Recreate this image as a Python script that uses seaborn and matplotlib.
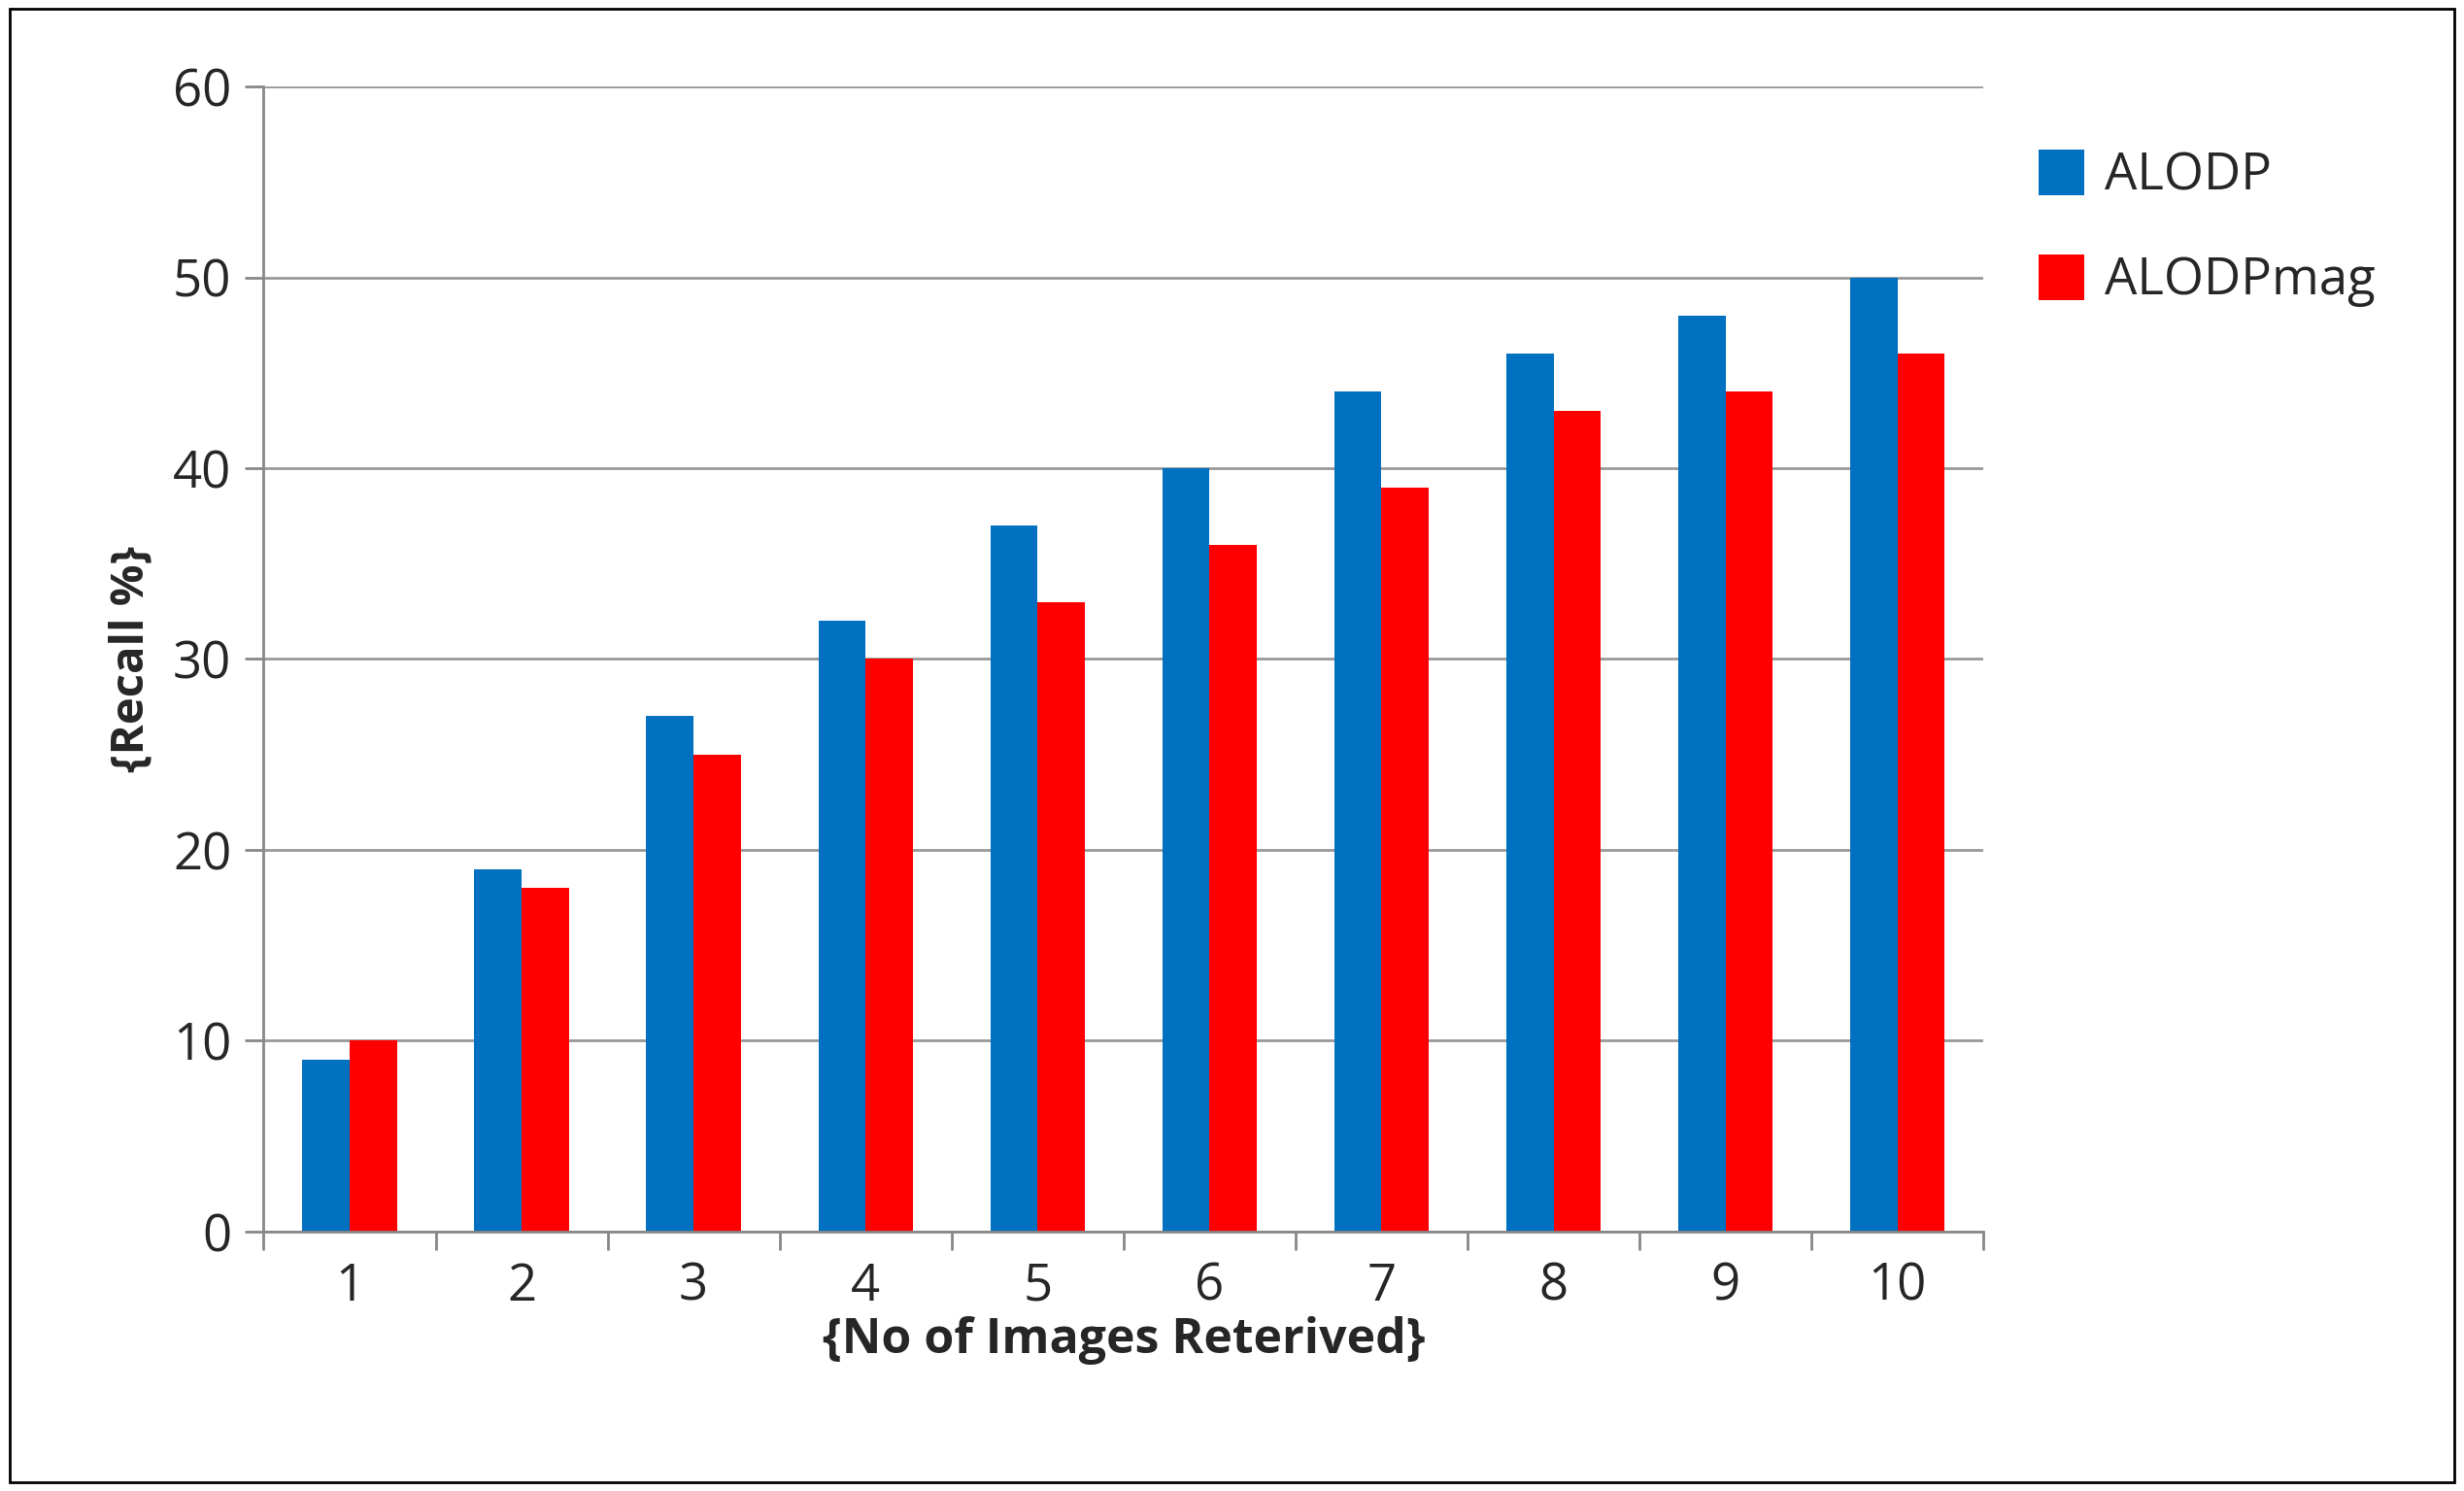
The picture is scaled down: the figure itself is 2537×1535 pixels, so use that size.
import numpy as np
import pandas as pd
import seaborn as sns
import matplotlib.pyplot as plt
from matplotlib.patches import Rectangle

categories = ['1', '2', '3', '4', '5', '6', '7', '8', '9', '10']
alodp = [9, 19, 27, 32, 37, 40, 44, 46, 48, 50]
alodp_mag = [10, 18, 25, 30, 33, 36, 39, 43, 44, 46]

df = pd.DataFrame({
    'N': categories * 2,
    'Recall': alodp + alodp_mag,
    'Method': ['ALODP'] * 10 + ['ALODPmag'] * 10,
})

sns.set_style('white', {'xtick.bottom': True, 'ytick.left': True})
plt.rcParams['font.family'] = ['Open Sans', 'DejaVu Sans']

fig = plt.figure(figsize=(25.37, 15.35), dpi=100)
ax = fig.add_axes([0.107, 0.174, 0.698, 0.768])

sns.barplot(data=df, x='N', y='Recall', hue='Method', order=categories,
            palette={'ALODP': '#0070C0', 'ALODPmag': '#FF0000'},
            width=0.55, saturation=1, linewidth=0, ax=ax, legend=True)

ax.set_ylim(0, 60)
ax.set_xlim(-0.5, 9.5)
ax.set_yticks(range(0, 61, 10))
ax.yaxis.grid(True, color='#999999', linewidth=2)
ax.set_axisbelow(True)
for s in ['top', 'right']:
    ax.spines[s].set_visible(False)
for s in ['left', 'bottom']:
    ax.spines[s].set_color('#888888')
    ax.spines[s].set_linewidth(2)
ax.set_xticks(np.arange(-0.5, 10, 1), minor=True)
ax.tick_params(axis='x', which='major', length=0, labelsize=38, pad=22)
ax.tick_params(axis='x', which='minor', bottom=True, length=14, width=2, color='#888888')
ax.tick_params(axis='y', length=14, width=2, color='#888888', labelsize=38, pad=10, left=True)
ax.set_xlabel('{No of Images Reterived}', fontsize=36, fontweight='bold', labelpad=2)
ax.set_ylabel('{Recall %}', fontsize=34, fontweight='bold', labelpad=14)

ax.legend(loc='upper left', bbox_to_anchor=(1.005, 0.985), frameon=False,
          fontsize=38, handlelength=0.9, handleheight=1.0, handletextpad=0.4,
          labelspacing=1.0)

fig.patches.append(Rectangle((0.004, 0.006), 0.992, 0.988, transform=fig.transFigure,
                             fill=False, edgecolor='black', linewidth=2))
fig.savefig('out.png', dpi=100, facecolor='white')
